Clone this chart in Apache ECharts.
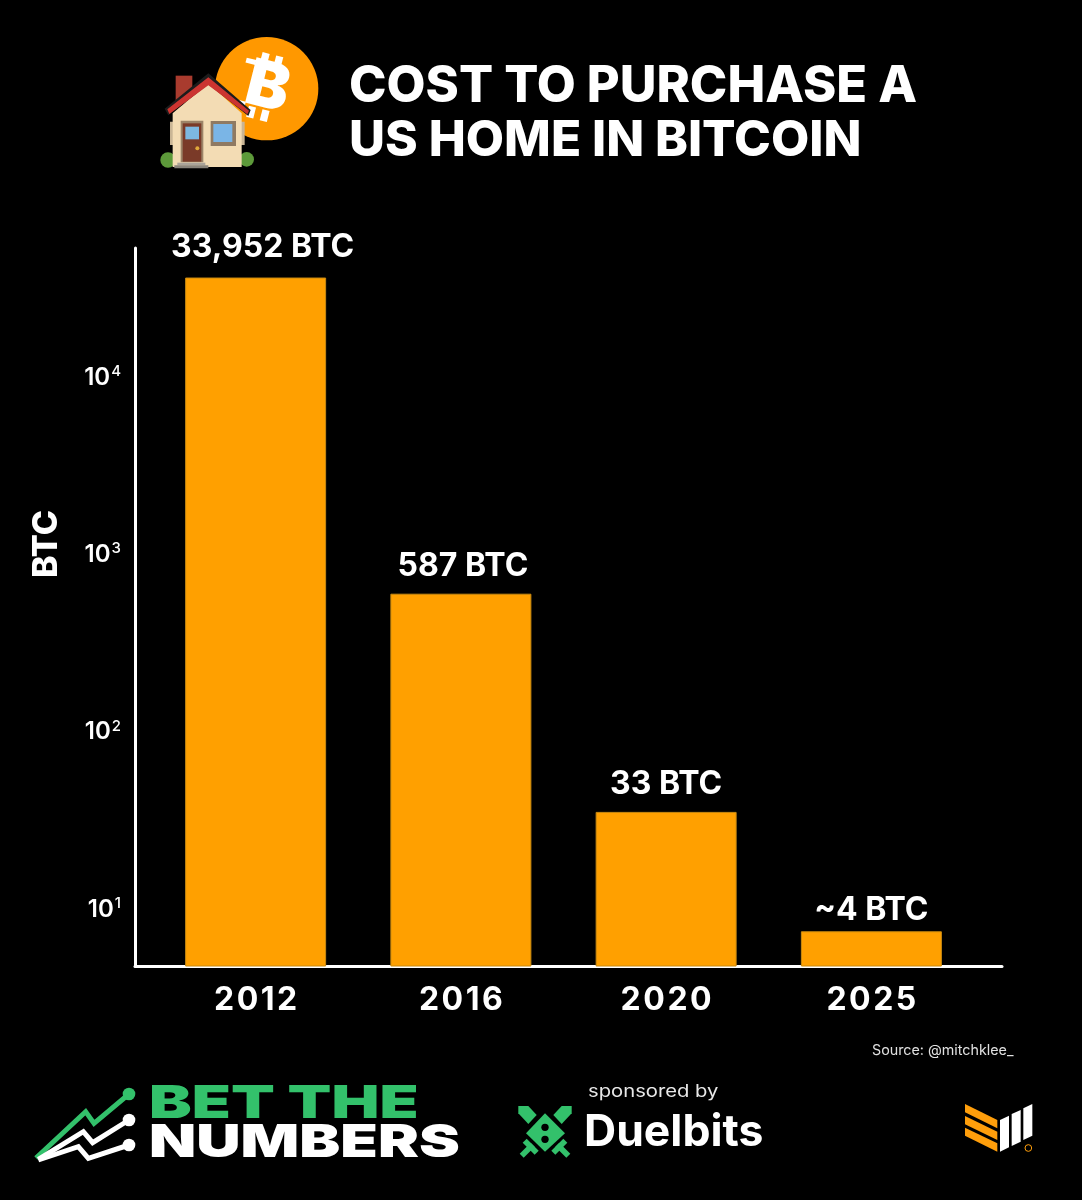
<!DOCTYPE html>
<html>
<head>
<meta charset="utf-8">
<style>html,body{margin:0;padding:0;background:#000}#chart{width:1082px;height:1200px}</style>
<script src="https://cdn.jsdelivr.net/npm/echarts@6/dist/echarts.min.js"></script>
</head>
<body>
<div id="chart"></div>
<script>
var years = ['2012', '2016', '2020', '2025'];
var barValues = [35500, 585, 34.4, 7.3];
var barLabels = ['33,952 BTC', '587 BTC', '33 BTC', '~4 BTC'];
var titleLines = ['COST TO PURCHASE A', 'US HOME IN BITCOIN'];
var yMin = 4.65;
var yMax = 52100;

// hand placement of the value labels, the source chart is not regular here
var labelGaps = [14, 11, 12, 5];
var labelShifts = [7, 2, 0, 0];

var font = 'Inter';

function poly(points, fill) {
    return {type: 'polygon', shape: {points: points}, style: {fill: fill}};
}
function line(points, color, w) {
    return {type: 'polyline', shape: {points: points}, style: {stroke: color, lineWidth: w, fill: null, lineJoin: 'miter'}};
}
function rect(x, y, w, h, fill, r) {
    return {type: 'rect', shape: {x: x, y: y, width: w, height: h, r: r || 0}, style: {fill: fill}};
}
function dot(x, y, r, fill) {
    return {type: 'circle', shape: {cx: x, cy: y, r: r}, style: {fill: fill}};
}
function label(text, x, y, size, weight, color, extra) {
    var el = {
        type: 'text', x: x, y: y,
        style: {text: text, fill: color, font: weight + ' ' + size + 'px ' + font, textVerticalAlign: 'middle', textAlign: 'left'}
    };
    for (var k in (extra || {})) el[k] = extra[k];
    return el;
}
// logos are traced in 3x zoom coordinates, so the group scales them back
function group(x, y, children) {
    return {type: 'group', x: x, y: y, scaleX: 1 / 3, scaleY: 1 / 3, children: children};
}

var coin = group(140, 50, [
    dot(380, 116, 155, '#ff9800'),
    {type: 'group', x: 378, y: 112, rotation: -0.25, children: [
        rect(-36, -100, 22, 34, '#fff'),
        rect(6, -100, 22, 34, '#fff'),
        rect(-36, 66, 22, 34, '#fff'),
        rect(6, 66, 22, 34, '#fff'),
        rect(-78, -72, 30, 15, '#fff'),
        rect(-78, 57, 30, 15, '#fff'),
        {type: 'text', x: 6, y: 2, style: {text: 'B', fill: '#fff', font: '900 192px ' + font, textAlign: 'center', textVerticalAlign: 'middle'}}
    ]}
]);

var house = group(140, 50, [
    dot(84, 330, 23, '#5d9a3a'),
    dot(320, 328, 22, '#5d9a3a'),
    rect(107, 77, 50, 80, '#a93b2e'),
    rect(90, 215, 224, 70, '#c9b595'),
    poly([[98, 190], [205, 100], [305, 190], [305, 351], [98, 351]], '#f3dcb4'),
    poly([[74, 176], [205, 70], [332, 180], [325, 198], [205, 103], [85, 196]], '#1c1c1c'),
    poly([[82, 178], [205, 82], [327, 182], [322, 193], [205, 106], [88, 192]], '#cb3430'),
    rect(122, 212, 68, 125, '#9c8468'),
    rect(128, 220, 56, 115, '#7a3a28'),
    rect(136, 230, 41, 38, '#7db8e0'),
    dot(172, 295, 6, '#e0a83a'),
    rect(212, 213, 76, 75, '#8f7a62'),
    rect(220, 222, 57, 54, '#7ab5e6'),
    rect(112, 338, 84, 8, '#aaa49a'),
    rect(103, 346, 102, 9, '#8a857c')
]);

var betLogo = group(20, 1070, [
    line([[48, 264], [197, 125], [222, 160], [327, 72]], '#33c16b', 15),
    dot(327, 72, 19, '#33c16b'),
    line([[55, 268], [190, 185], [218, 218], [327, 150]], '#fff', 15),
    dot(327, 150, 19, '#fff'),
    line([[55, 270], [175, 230], [205, 265], [327, 225]], '#fff', 15),
    dot(327, 225, 19, '#fff')
]);
var betText = label('BET THE', 149, 1104, 46, 900, '#33c16b', {scaleX: 1.39});
var numText = label('NUMBERS', 149, 1143, 46, 900, '#fff', {scaleX: 1.335});

var swordGreen = '#33c16b';
var duelLogo = group(500, 1070, [
    poly([[135, 130], [195, 190], [135, 245], [78, 190]], swordGreen),
    poly([[55, 108], [85, 108], [110, 135], [85, 162], [55, 130]], swordGreen),
    poly([[215, 108], [185, 108], [160, 135], [185, 162], [215, 130]], swordGreen),
    line([[65, 257], [98, 224]], swordGreen, 17),
    line([[74, 212], [110, 248]], swordGreen, 17),
    line([[205, 257], [172, 224]], swordGreen, 17),
    line([[196, 212], [160, 248]], swordGreen, 17),
    dot(135, 172, 11, '#000'),
    dot(135, 208, 11, '#000')
]);

var orange = '#ff9e0b';
var marketLogo = group(940, 1090, [
    poly([[75, 42], [172, 90], [172, 115], [75, 67]], orange),
    poly([[75, 78], [172, 125], [172, 150], [75, 103]], orange),
    poly([[75, 113], [172, 160], [172, 185], [75, 137]], orange),
    poly([[180, 90], [207, 77], [207, 172], [180, 185]], '#fff'),
    poly([[215, 72], [242, 60], [242, 155], [215, 168]], '#fff'),
    poly([[250, 55], [277, 42], [277, 137], [250, 150]], '#fff'),
    {type: 'circle', shape: {cx: 265, cy: 174, r: 10}, style: {fill: null, stroke: orange, lineWidth: 3}}
]);

var barData = barValues.map(function (v, i) {
    return {value: v, label: {distance: labelGaps[i], offset: [labelShifts[i], 0]}};
});

var option = {
    backgroundColor: '#000',
    animation: false,
    title: {
        text: '{a|' + titleLines[0] + '}\n{b|' + titleLines[1] + '}',
        left: 344,
        top: 55,
        textStyle: {
            rich: {
                a: {color: '#fff', fontFamily: font, fontWeight: 800, fontSize: 50.5, lineHeight: 54},
                b: {color: '#fff', fontFamily: font, fontWeight: 800, fontSize: 49.6, lineHeight: 54}
            }
        }
    },
    grid: [
        // frame grid carries the long axis lines and the y labels
        {left: 135, top: 248, width: 867, height: 718},
        {left: 153, top: 248, width: 821, height: 718}
    ],
    xAxis: [{
        gridIndex: 0,
        type: 'value',
        min: 0,
        max: 1,
        axisLine: {show: true, lineStyle: {color: '#fff', width: 3}},
        axisTick: {show: false},
        axisLabel: {show: false},
        splitLine: {show: false}
    }, {
        gridIndex: 1,
        type: 'category',
        data: years,
        axisLine: {show: false},
        axisTick: {show: false},
        axisLabel: {
            color: '#fff',
            fontFamily: font,
            fontWeight: 700,
            fontSize: 32,
            margin: 18,
            formatter: function (v) {
                return v.split('').join('\u200A');
            }
        }
    }],
    yAxis: [{
        gridIndex: 0,
        type: 'log',
        min: yMin,
        max: yMax,
        axisLine: {show: true, onZero: false, lineStyle: {color: '#fff', width: 3}},
        axisTick: {show: false},
        splitLine: {show: false},
        minorTick: {show: false},
        axisLabel: {
            margin: 14,
            padding: [5, 0, 0, 0],
            showMinLabel: false,
            showMaxLabel: false,
            formatter: function (v) {
                var e = Math.log10(v);
                if (Math.abs(e - Math.round(e)) > 0.001) return '';
                return '{b|10}{s|' + Math.round(e) + '}';
            },
            rich: {
                b: {color: '#fff', fontFamily: font, fontWeight: 600, fontSize: 24},
                s: {color: '#fff', fontFamily: font, fontWeight: 500, fontSize: 15, padding: [0, 0, 12, 1]}
            }
        }
    }, {
        gridIndex: 1,
        type: 'log',
        min: yMin,
        max: yMax,
        show: false
    }],
    series: [{
        type: 'bar',
        xAxisIndex: 1,
        yAxisIndex: 1,
        data: barData,
        barWidth: 141,
        itemStyle: {color: '#ffa000', borderColor: '#c98a10', borderWidth: 1},
        label: {
            show: true,
            position: 'top',
            color: '#fff',
            fontFamily: font,
            fontWeight: 700,
            fontSize: 32,
            formatter: function (p) {
                return barLabels[p.dataIndex];
            }
        }
    }],
    graphic: [
        coin,
        house,
        label('BTC', 47, 544, 34, 800, '#fff', {rotation: Math.PI / 2, style: {text: 'BTC', fill: '#fff', font: '800 34px ' + font, textAlign: 'center', textVerticalAlign: 'middle'}}),
        label('Source: @mitchklee_', 872, 1051, 14.3, 400, '#e0e0e0'),
        betLogo,
        betText,
        numText,
        label('sponsored by', 588, 1092, 17, 400, '#e8e8e8', {scaleX: 1.19}),
        duelLogo,
        label('Duelbits', 584, 1133, 44.5, 700, '#fff'),
        marketLogo
    ]
};

var chart = echarts.init(document.getElementById('chart'));
chart.setOption(option);
</script>
</body>
</html>
